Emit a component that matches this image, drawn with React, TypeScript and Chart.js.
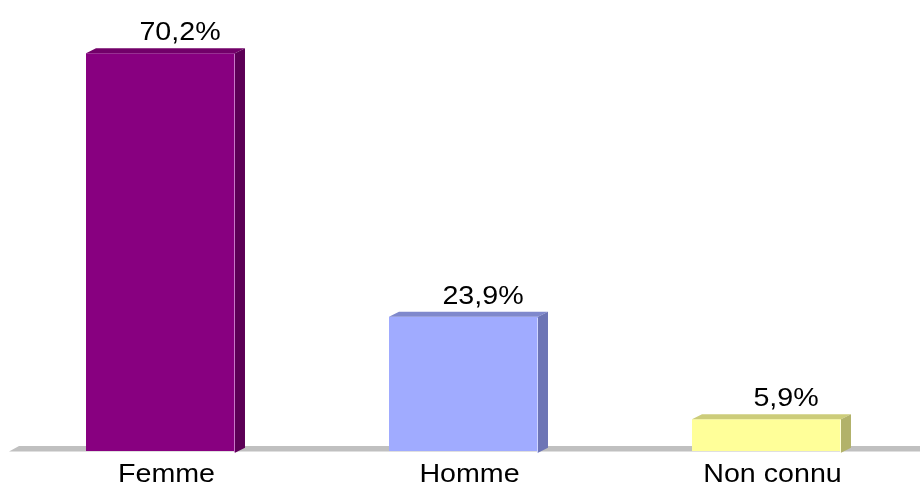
import React, { useEffect, useRef } from "react";
import { Chart, registerables } from "chart.js";

Chart.register(...registerables);

const categories = ["Femme", "Homme", "Non connu"];
const values = [70.2, 23.9, 5.9];
const frontColors = ["#880080", "#A0ABFF", "#FFFF99"];
const topColors = ["#720069", "#7F88CC", "#CCCC7A"];
const sideColors = ["#5C0056", "#6D75B5", "#B2B26A"];
const edgeColors = ["#C878C8", "#D0D6FF", "#FFFFD8"];

const DX = 10;
const DY = 5;
const FONT = "26.5px 'Liberation Sans', Arial, sans-serif";
const SX = 1.08;

function fmt(v: number): string {
  return v.toFixed(1).replace(".", ",") + "%";
}

function drawText(ctx: CanvasRenderingContext2D, text: string, x: number, y: number) {
  ctx.save();
  ctx.font = FONT;
  ctx.fillStyle = "#000000";
  ctx.textAlign = "center";
  ctx.textBaseline = "alphabetic";
  ctx.translate(x, y);
  ctx.scale(SX, 1);
  ctx.fillText(text, 0, 0);
  ctx.restore();
}

const threeD = {
  id: "threeD",
  beforeDatasetsDraw(chart: any) {
    const { ctx, chartArea } = chart;
    const b = chartArea.bottom;
    ctx.save();
    ctx.fillStyle = "#C0C0C0";
    ctx.beginPath();
    ctx.moveTo(chartArea.left, b + 0.5);
    ctx.lineTo(chartArea.left + DX, b - DY);
    ctx.lineTo(chart.width, b - DY);
    ctx.lineTo(chart.width, b + 0.5);
    ctx.closePath();
    ctx.fill();
    ctx.restore();
  },
  afterDatasetsDraw(chart: any) {
    const ctx: CanvasRenderingContext2D = chart.ctx;
    const meta = chart.getDatasetMeta(0);
    const xScale = chart.scales.x;
    meta.data.forEach((bar: any, i: number) => {
      const { x, y, base, width } = bar.getProps(["x", "y", "base", "width"], true);
      const l = x - width / 2;
      const r = x + width / 2;
      ctx.save();
      // top face
      ctx.fillStyle = topColors[i];
      ctx.beginPath();
      ctx.moveTo(l, y);
      ctx.lineTo(l + DX, y - DY);
      ctx.lineTo(r + DX, y - DY);
      ctx.lineTo(r, y);
      ctx.closePath();
      ctx.fill();
      // side face
      ctx.fillStyle = sideColors[i];
      ctx.beginPath();
      ctx.moveTo(r, y);
      ctx.lineTo(r + DX, y - DY);
      ctx.lineTo(r + DX, base - DY);
      ctx.lineTo(r, base);
      ctx.closePath();
      ctx.fill();
      // edge highlight
      ctx.fillStyle = edgeColors[i];
      ctx.fillRect(Math.round(r) - 1, Math.round(y) + 1, 1, base - y - 1);
      ctx.restore();

      drawText(ctx, fmt(values[i]), x + 19.5, y - 13);
      drawText(ctx, categories[i], xScale.getPixelForValue(i) + 6, 482);
    });
  },
};

export default function App() {
  const ref = useRef<HTMLCanvasElement | null>(null);
  useEffect(() => {
    document.body.style.margin = "0";
    document.body.style.overflow = "hidden";
    const canvas = ref.current;
    if (!canvas) return;
    const chart = new Chart(canvas, {
      type: "bar",
      data: {
        labels: categories,
        datasets: [
          {
            data: values,
            backgroundColor: frontColors,
            borderWidth: 0,
            barPercentage: 0.4917,
            categoryPercentage: 1,
          },
        ],
      },
      options: {
        animation: false,
        responsive: false,
        devicePixelRatio: 1,
        layout: { padding: { left: 9, right: 2, top: 10, bottom: 34 } },
        plugins: { legend: { display: false }, tooltip: { enabled: false } },
        scales: {
          x: { display: false },
          y: { display: false, min: 0.3, max: 77.8 },
        },
      },
      plugins: [threeD],
    });
    return () => chart.destroy();
  }, []);
  return (
    <div style={{ width: 920, height: 485, background: "#ffffff" }}>
      <canvas ref={ref} width={920} height={485} style={{ display: "block" }} />
    </div>
  );
}
